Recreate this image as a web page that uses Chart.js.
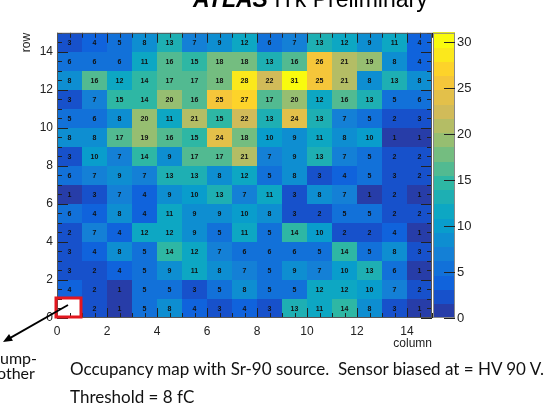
<!DOCTYPE html>
<html>
<head>
<meta charset="utf-8">
<script src="https://cdn.jsdelivr.net/npm/chart.js@4.4.1/dist/chart.umd.min.js"></script>
<style>
  html, body { margin: 0; padding: 0; background: #fff; }
  #wrap { position: relative; width: 552px; height: 407px; overflow: hidden; }
  #wrap canvas { position: absolute; left: 0; top: 0; }
  .note { position: absolute; font-family: Lato, "Open Sans", sans-serif; color: #111; white-space: pre; font-size: 17px; line-height: 18px; }
</style>
</head>
<body>
<div id="wrap">
  <canvas id="occ" width="552" height="407"></canvas>
  <div class="note" style="left:70px; top:360px;">Occupancy map with Sr-90 source.  Sensor biased at = HV 90 V.</div>
  <div class="note" style="left:70px; top:388px;">Threshold = 8 fC</div>
  <div class="note" style="left:0px; top:349px; font-size:16px;">ump-</div>
  <div class="note" style="left:-3px; top:364px; font-size:16px;">other</div>
</div>
<script>
// Pixel occupancy (hits per pixel), one array per sensor row, columns 0..14.
// The pixel at column 0, row 0 is not connected (no entry).
const row00 = [null, 2, 1, 5, 8, 4, 3, 4, 3, 13, 11, 14, 8, 3, 1];
const row01 = [4, 2, 1, 5, 5, 3, 5, 8, 5, 5, 12, 12, 10, 7, 2];
const row02 = [3, 2, 4, 5, 9, 11, 8, 7, 5, 9, 7, 10, 13, 6, 1];
const row03 = [3, 4, 8, 5, 14, 12, 7, 6, 6, 6, 5, 14, 5, 8, 3];
const row04 = [2, 7, 4, 12, 12, 9, 5, 11, 5, 14, 10, 2, 2, 4, 1];
const row05 = [6, 4, 8, 4, 11, 9, 9, 10, 8, 3, 2, 5, 5, 2, 2];
const row06 = [1, 3, 7, 4, 9, 10, 13, 7, 11, 3, 8, 7, 1, 2, 1];
const row07 = [6, 7, 9, 7, 13, 13, 8, 12, 5, 8, 3, 4, 5, 3, 2];
const row08 = [3, 10, 7, 14, 9, 17, 17, 21, 7, 9, 13, 7, 5, 2, 2];
const row09 = [8, 8, 17, 19, 16, 15, 24, 18, 10, 9, 11, 8, 10, 1, 1];
const row10 = [5, 6, 8, 20, 11, 21, 15, 22, 13, 24, 13, 7, 5, 2, 3];
const row11 = [3, 7, 15, 14, 20, 16, 25, 27, 17, 20, 12, 16, 13, 5, 6];
const row12 = [8, 16, 12, 14, 17, 17, 18, 28, 22, 31, 25, 21, 8, 13, 8];
const row13 = [6, 6, 6, 11, 16, 15, 18, 18, 13, 16, 26, 21, 19, 8, 4];
const row14 = [3, 4, 5, 8, 13, 7, 9, 12, 6, 7, 13, 12, 9, 11, 4];

const rowIndex = [0, 1, 2, 3, 4, 5, 6, 7, 8, 9, 10, 11, 12, 13, 14];
const columnIndex = [0, 1, 2, 3, 4, 5, 6, 7, 8, 9, 10, 11, 12, 13, 14];
const occupancyRows = [row00, row01, row02, row03, row04, row05, row06, row07,
                       row08, row09, row10, row11, row12, row13, row14];

// Axis tick labels
const axisTicks = [0, 2, 4, 6, 8, 10, 12, 14];
const colorTicks = [0, 5, 10, 15, 20, 25, 30];
const axisMax = 15;
const zMax = 31;
const nContours = 20;

// ROOT "bird" palette
const birdStops = [0.0, 0.125, 0.25, 0.375, 0.5, 0.625, 0.75, 0.875, 1.0];
const birdR = [0.2082, 0.0592, 0.0780, 0.0232, 0.1802, 0.5301, 0.8186, 0.9956, 0.9764];
const birdG = [0.1664, 0.3599, 0.5041, 0.6419, 0.7178, 0.7492, 0.7328, 0.7862, 0.9832];
const birdB = [0.5293, 0.8684, 0.8385, 0.7914, 0.6425, 0.4662, 0.3499, 0.1968, 0.0539];

function bird(f) {
  let i = 0;
  while (i < birdStops.length - 2 && f > birdStops[i + 1]) i++;
  const t = (f - birdStops[i]) / (birdStops[i + 1] - birdStops[i]);
  const c = (a) => Math.round(255 * (a[i] + t * (a[i + 1] - a[i])));
  return `rgb(${c(birdR)},${c(birdG)},${c(birdB)})`;
}
function bandColor(band) {
  const idx = Math.floor((band + 0.99) * 255 / nContours);
  return bird(idx / 254);
}
function valueColor(v) {
  let band = Math.floor(v / (zMax / nContours));
  band = Math.max(0, Math.min(nContours - 1, band));
  return bandColor(band);
}

const cells = [];
rowIndex.forEach((r) => {
  columnIndex.forEach((c) => {
    const v = occupancyRows[r][c];
    if (v !== null) cells.push({ x: c + 0.5, y: r + 0.5, v: v, col: c, row: r });
  });
});

const FONT = '"Liberation Sans", Arial, sans-serif';

const heatmapPlugin = {
  id: 'heatmap',
  beforeDatasetsDraw(chart) {
    const { ctx, scales: { x, y, z }, chartArea: ca } = chart;
    ctx.save();
    // cells
    cells.forEach((p) => {
      const x0 = Math.round(x.getPixelForValue(p.col));
      const x1 = Math.round(x.getPixelForValue(p.col + 1));
      const y0 = Math.round(y.getPixelForValue(p.row + 1));
      const y1 = Math.round(y.getPixelForValue(p.row));
      ctx.fillStyle = valueColor(p.v);
      ctx.fillRect(x0, y0, x1 - x0, y1 - y0);
    });
    // cell values
    ctx.fillStyle = '#111';
    ctx.font = 'bold 7px ' + FONT;
    ctx.textAlign = 'center';
    ctx.textBaseline = 'middle';
    cells.forEach((p) => {
      ctx.fillText(String(p.v), x.getPixelForValue(p.x), y.getPixelForValue(p.y) + 0.5);
    });

    // tick marks on all four frame sides
    ctx.strokeStyle = '#222';
    ctx.lineWidth = 1;
    ctx.beginPath();
    for (let k = 0; k <= axisMax * 2; k++) {
      const v = k / 2;
      const major = axisTicks.includes(v);
      const lx = major ? 11 : 5;
      const ly = major ? 10 : 5;
      const px = Math.round(x.getPixelForValue(v)) + 0.5;
      const py = Math.round(y.getPixelForValue(v)) + 0.5;
      ctx.moveTo(px, ca.bottom); ctx.lineTo(px, ca.bottom - ly);
      ctx.moveTo(px, ca.top); ctx.lineTo(px, ca.top + ly);
      ctx.moveTo(ca.left, py); ctx.lineTo(ca.left + lx, py);
      ctx.moveTo(ca.right, py); ctx.lineTo(ca.right - lx, py);
    }
    ctx.stroke();
    // frame
    ctx.strokeStyle = '#555';
    ctx.strokeRect(ca.left + 0.5, ca.top + 0.5, ca.right - ca.left - 1, ca.bottom - ca.top - 1);

    // colour bar
    const bx0 = ca.right + 1;
    const bx1 = ca.right + 23;
    for (let b = 0; b < nContours; b++) {
      const yb = z.getPixelForValue(b * zMax / nContours);
      const yt = z.getPixelForValue((b + 1) * zMax / nContours);
      ctx.fillStyle = bandColor(b);
      ctx.fillRect(bx0, Math.floor(yt), bx1 - bx0, Math.ceil(yb) - Math.floor(yt));
    }
    ctx.strokeStyle = '#888';
    ctx.strokeRect(bx0 + 0.5, z.top + 0.5, bx1 - bx0 - 1, z.bottom - z.top - 1);
    ctx.strokeStyle = '#222';
    ctx.beginPath();
    colorTicks.forEach((t) => {
      const py = Math.round(z.getPixelForValue(t)) + 0.5;
      ctx.moveTo(bx1, py); ctx.lineTo(bx1 - 11, py);
    });
    ctx.stroke();
    ctx.restore();
  },
  afterDatasetsDraw(chart) {
    const { ctx, scales: { x, y }, chartArea: ca } = chart;
    ctx.save();
    // axis titles
    ctx.fillStyle = '#222';
    ctx.font = '12px ' + FONT;
    ctx.textBaseline = 'middle';
    ctx.textAlign = 'right';
    ctx.fillText('column', ca.right, 344);
    ctx.save();
    ctx.translate(27, ca.top);
    ctx.rotate(-Math.PI / 2);
    ctx.textAlign = 'right';
    ctx.fillText('row', 0, 0);
    ctx.restore();

    // header
    ctx.fillStyle = '#000';
    ctx.textBaseline = 'alphabetic';
    ctx.textAlign = 'left';
    ctx.font = 'bold italic 23px ' + FONT;
    ctx.fillText('ATLAS', 193, 7);
    const w = ctx.measureText('ATLAS ').width;
    ctx.font = '23px ' + FONT;
    ctx.fillText('ITk Preliminary', 193 + w, 7);

    // disconnected pixel marker
    const rx0 = x.getPixelForValue(0) - 1;
    const rx1 = x.getPixelForValue(1) - 1;
    const ry0 = y.getPixelForValue(1) - 1;
    const ry1 = y.getPixelForValue(0) - 1;
    ctx.strokeStyle = '#e3161e';
    ctx.lineWidth = 3;
    ctx.strokeRect(rx0, ry0, rx1 - rx0, ry1 - ry0);

    // pointer arrow
    const ax0 = 68, ay0 = 305, ax1 = 3, ay1 = 342;
    ctx.strokeStyle = '#000';
    ctx.fillStyle = '#000';
    ctx.lineWidth = 1.8;
    ctx.beginPath();
    ctx.moveTo(ax0, ay0);
    ctx.lineTo(ax1 + 6, ay1 - 3.4);
    ctx.stroke();
    const ang = Math.atan2(ay1 - ay0, ax1 - ax0);
    ctx.beginPath();
    ctx.moveTo(ax1, ay1);
    ctx.lineTo(ax1 - 10 * Math.cos(ang - 0.4), ay1 - 10 * Math.sin(ang - 0.4));
    ctx.lineTo(ax1 - 10 * Math.cos(ang + 0.4), ay1 - 10 * Math.sin(ang + 0.4));
    ctx.closePath();
    ctx.fill();
    ctx.restore();
  }
};

new Chart(document.getElementById('occ'), {
  type: 'scatter',
  data: {
    datasets: [{
      label: 'occupancy',
      data: cells,
      pointRadius: 0,
      pointHoverRadius: 0
    }]
  },
  options: {
    responsive: false,
    animation: false,
    events: [],
    layout: { padding: { top: 11, left: 0, right: 0, bottom: 0 } },
    plugins: { legend: { display: false }, tooltip: { enabled: false } },
    scales: {
      x: {
        type: 'linear', position: 'bottom', min: 0, max: axisMax,
        afterFit: (s) => { s.height = 89; },
        afterBuildTicks: (s) => { s.ticks = axisTicks.map((v) => ({ value: v })); },
        grid: { display: false, drawTicks: false },
        border: { display: false },
        ticks: { padding: 6, maxRotation: 0, color: '#222', font: { family: FONT, size: 12 } }
      },
      y: {
        type: 'linear', position: 'left', min: 0, max: axisMax,
        afterFit: (s) => { s.width = 57; },
        afterBuildTicks: (s) => { s.ticks = axisTicks.map((v) => ({ value: v })); },
        grid: { display: false, drawTicks: false },
        border: { display: false },
        ticks: { padding: 4, color: '#222', font: { family: FONT, size: 12 } }
      },
      z: {
        type: 'linear', position: 'right', min: 0, max: zMax, display: true,
        afterFit: (s) => { s.width = 120; },
        afterBuildTicks: (s) => { s.ticks = colorTicks.map((v) => ({ value: v })); },
        grid: { display: false, drawTicks: false },
        border: { display: false },
        ticks: { padding: 25, color: '#222', font: { family: FONT, size: 13 } }
      }
    }
  },
  plugins: [heatmapPlugin]
});
</script>
</body>
</html>
